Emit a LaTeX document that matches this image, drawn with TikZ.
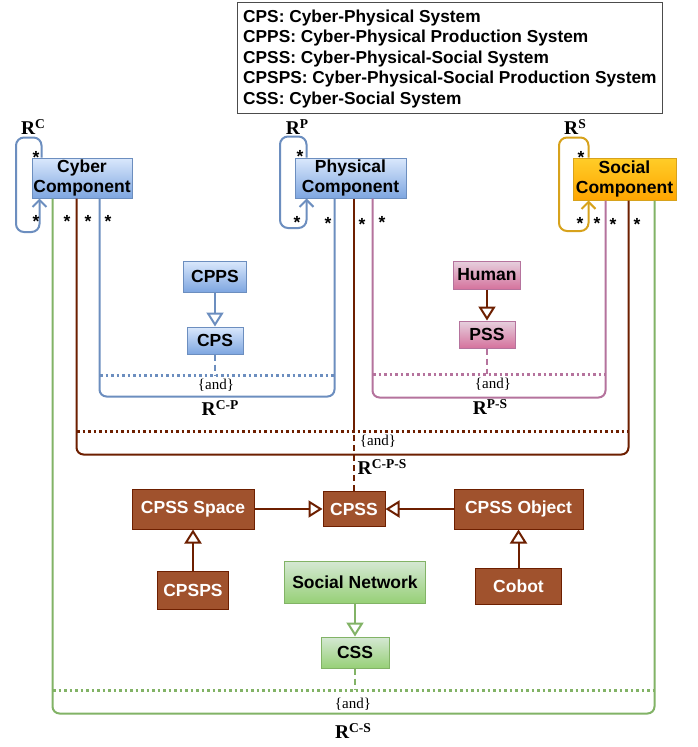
\documentclass[tikz,border=0pt]{standalone}
\usepackage{fontspec}
\setmainfont{Liberation Serif}
\setsansfont{Liberation Sans}
\usepackage{tikz}
\usetikzlibrary{%
  arrows.meta,% open triangles
  positioning,%
  shapes.misc%
}
\definecolor{BlueTop}{HTML}{DAE8FC}
\definecolor{BlueBot}{HTML}{7EA6E0}
\definecolor{BlueLine}{HTML}{6C8EBF}
\definecolor{PinkTop}{HTML}{E6D0DE}
\definecolor{PinkBot}{HTML}{D5739D}
\definecolor{PinkLine}{HTML}{B5739D}
\definecolor{BrownFill}{HTML}{A0522D}
\definecolor{BrownLine}{HTML}{6D1F00}
\definecolor{GreenTop}{HTML}{D5E8D4}
\definecolor{GreenBot}{HTML}{97D077}
\definecolor{GreenLine}{HTML}{82B366}
\definecolor{OrangeTop}{HTML}{FFCD28}
\definecolor{OrangeBot}{HTML}{FFA500}
\definecolor{OrangeLine}{HTML}{D7A21C}
\newcommand{\RelName}[1]{R\raisebox{6.5pt}{\fontsize{13.5}{15}\selectfont #1}}

\begin{document}
\begin{tikzpicture}[x=1pt,y=-1pt,
  every node/.style={font=\sffamily\bfseries\fontsize{17.5}{20}\selectfont,
    inner sep=0pt, align=center},
  BlueBox/.style={draw=BlueLine, line width=1pt, top color=BlueTop, bottom color=BlueBot},
  PinkBox/.style={draw=PinkLine, line width=1pt, top color=PinkTop, bottom color=PinkBot},
  OrangeBox/.style={draw=OrangeLine, line width=1pt, top color=OrangeTop, bottom color=OrangeBot},
  GreenBox/.style={draw=GreenLine, line width=1pt, top color=GreenTop, bottom color=GreenBot},
  BrownBox/.style={draw=BrownLine, line width=1pt, fill=BrownFill, text=white},
  Gen/.style={line width=2pt, -{Triangle[open,length=14pt,width=17pt,fill=white]}},
  Loop/.style={line width=2pt, rounded corners=8pt, -{Straight Barb[length=7pt,width=14pt]}},
  Rel/.style={line width=2pt, rounded corners=7pt},
  DotLine/.style={line width=3pt, dash pattern=on 2.5pt off 3pt},
  DashLine/.style={line width=2pt, dash pattern=on 6pt off 4pt},
  Star/.style={anchor=base, yshift=-10pt},
  RelLabel/.style={font=\rmfamily\bfseries\fontsize{19.5}{21}\selectfont},
  AndLabel/.style={font=\rmfamily\fontsize{15}{17}\selectfont}]
  \path[use as bounding box, fill=white] (0,0) rectangle (697,747);

  % legend
  \draw[line width=1pt, black!70] (237,2) rectangle (662,113);
  \node[anchor=west, align=left, font=\sffamily\bfseries\fontsize{17.3}{20.5}\selectfont]
    (legend) at (243,59) {CPS: Cyber-Physical System\\
    CPPS: Cyber-Physical Production System\\
    CPSS: Cyber-Physical-Social System\\
    CPSPS: Cyber-Physical-Social Production System\\
    CSS: Cyber-Social System};

  % components
  \node[BlueBox, minimum width=100pt, minimum height=40pt] (cyber) at (82,178) {Cyber\\Component};
  \node[BlueBox, minimum width=111pt, minimum height=40pt] (phys) at (350.5,178) {Physical\\Component};
  \node[OrangeBox, minimum width=103pt, minimum height=42pt] (social) at (624.5,179) {Social\\Component};

  % systems
  \node[BlueBox, minimum width=63pt, minimum height=31pt] (cpps) at (215,276.5) {CPPS};
  \node[BlueBox, minimum width=56pt, minimum height=27pt] (cps) at (215,340.5) {CPS};
  \node[PinkBox, minimum width=67pt, minimum height=28pt] (human) at (487,275) {Human};
  \node[PinkBox, minimum width=56pt, minimum height=27pt] (pss) at (487,334.5) {PSS};
  \node[BrownBox, minimum width=122pt, minimum height=40pt] (space) at (193,509) {CPSS Space};
  \node[BrownBox, minimum width=62pt, minimum height=35pt] (cpss) at (354,509) {CPSS};
  \node[BrownBox, minimum width=129pt, minimum height=40pt] (object) at (518.5,509) {CPSS Object};
  \node[BrownBox, minimum width=71pt, minimum height=38pt] (cpsps) at (193,590) {CPSPS};
  \node[GreenBox, minimum width=141pt, minimum height=42pt] (socnet) at (355,582) {Social Network};
  \node[BrownBox, minimum width=86pt, minimum height=36pt] (cobot) at (518.5,586) {Cobot};
  \node[GreenBox, minimum width=68pt, minimum height=31pt] (css) at (355,652.5) {CSS};

  % self relations
  \draw[Loop, BlueLine] ([xshift=10pt]cyber.north west) -- ++(0,-20) -| (16,232)
    -| ([xshift=8pt]cyber.south west);
  \draw[Loop, BlueLine] ([xshift=12pt]phys.north west) -- ++(0,-21) -| (280,228)
    -| ([xshift=12pt]phys.south west);
  \draw[Loop, OrangeLine] ([xshift=16pt]social.north west) -- ++(0,-20) -| (559,231)
    -| ([xshift=16pt]social.south west);

  % binary and ternary relations
  \draw[Rel, GreenLine] ([xshift=21pt]cyber.south west) -- ++(0,515)
    -| ([xshift=82pt]social.south west);
  \draw[Rel, BrownLine] ([xshift=45pt]cyber.south west) -- ++(0,256)
    -| ([xshift=56pt]social.south west);
  \draw[line width=2pt, BrownLine] ([xshift=59pt]phys.south west) -- ++(0,233);
  \draw[Rel, BlueLine] ([xshift=68pt]cyber.south west) -- ++(0,198)
    -| ([xshift=40pt]phys.south west);
  \draw[Rel, PinkLine] ([xshift=78pt]phys.south west) -- ++(0,199)
    -| ([xshift=33pt]social.south west);

  \draw[DotLine, BlueLine] (100,375) -- (335,375);
  \draw[DotLine, PinkLine] (373,374) -- (606,374);
  \draw[DotLine, BrownLine] (77,431) -- (629,431);
  \draw[DotLine, GreenLine] (53,690) -- (655,690);

  \draw[DashLine, BlueLine] (cps.south) -- (cps.south |- 0,375);
  \draw[DashLine, PinkLine] (pss.south) -- (pss.south |- 0,374);
  \draw[DashLine, BrownLine] (cpss.north) -- (cpss.north |- 0,431);
  \draw[DashLine, GreenLine] (css.south) -- (css.south |- 0,690);

  % generalizations
  \draw[Gen, BlueLine] (cpps) -- (cps);
  \draw[Gen, BrownLine] (human) -- (pss);
  \draw[Gen, BrownLine] (space) -- (cpss);
  \draw[Gen, BrownLine] (object) -- (cpss);
  \draw[Gen, BrownLine] (cpsps) -- (space);
  \draw[Gen, BrownLine] (cobot) -- (object);
  \draw[Gen, GreenLine] (socnet) -- (css);

  % labels
  \node[RelLabel] (rc) at (33,127) {\RelName{C}};
  \node[RelLabel] (rp) at (297,127) {\RelName{P}};
  \node[RelLabel] (rs) at (575,127) {\RelName{S}};
  \node[RelLabel] (rcp) at (220,408) {\RelName{C-P}};
  \node[RelLabel] (rps) at (490,407) {\RelName{P-S}};
  \node[RelLabel] (rcps) at (382,467) {\RelName{C-P-S}};
  \node[RelLabel] (rcs) at (353,731) {\RelName{C-S}};
  \node[AndLabel] (andcp) at (216,385) {\{and\}};
  \node[AndLabel] (andps) at (493,384) {\{and\}};
  \node[AndLabel] (andcps) at (378,441) {\{and\}};
  \node[AndLabel] (andcs) at (353,704) {\{and\}};

  % multiplicities
  \foreach \sx/\sy [count=\i] in {36/153, 36/217, 67/217, 88/217, 108/217,
      300/152, 297/218, 328/219, 362/220, 382/218,
      581/153, 580/219, 597/219, 613/220, 637/220}
    \node[Star] (star\i) at (\sx,\sy) {*};
\end{tikzpicture}
\end{document}
